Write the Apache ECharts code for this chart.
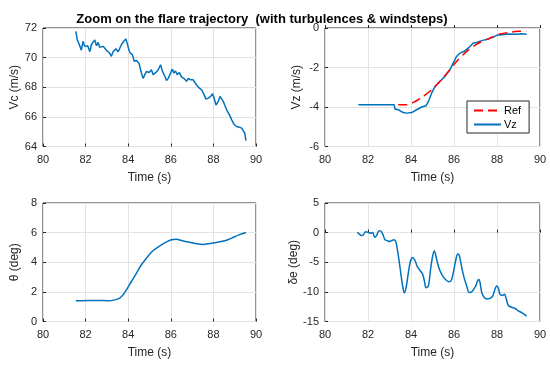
<!DOCTYPE html>
<html><head><meta charset="utf-8">
<script src="https://cdn.jsdelivr.net/npm/echarts@6/dist/echarts.min.js"></script>
<style>html,body{margin:0;padding:0;background:#fff}#c{width:550px;height:368px}</style>
</head><body><div id="c"></div>
<script>
const titleText = 'Zoom on the flare trajectory  (with turbulences & windsteps)';
const xTicks = [80, 82, 84, 86, 88, 90];

const vcTime = [81.54,81.61,81.69,81.8,81.88,81.96,82.04,82.1,82.2,82.27,82.35,82.43,82.51,82.59,82.66,82.82,82.98,83.13,83.21,83.29,83.42,83.53,83.6,83.68,83.79,83.89,83.95,84.04,84.1,84.2,84.28,84.39,84.51,84.62,84.7,84.78,84.86,84.98,85.09,85.17,85.3,85.41,85.52,85.61,85.72,85.8,85.88,85.99,86.07,86.14,86.22,86.3,86.4,86.5,86.61,86.74,86.82,86.93,87.05,87.13,87.2,87.33,87.45,87.56,87.65,87.76,87.87,87.96,88.03,88.12,88.23,88.31,88.39,88.46,88.54,88.62,88.75,88.86,88.97,89.09,89.22,89.33,89.4,89.47,89.53];
const vcValue = [71.77,71.2,70.94,70.5,71.1,70.76,70.87,70.8,70.4,70.87,70.98,71.2,70.8,71.03,70.7,70.76,70.5,70.3,70.09,70.4,70.6,70.4,70.5,70.87,71.1,71.26,70.98,70.5,70.3,70.2,69.75,69.8,69.6,68.96,68.6,68.85,69.07,69.0,69.18,68.85,69.0,69.18,69.52,69.07,68.74,68.46,68.6,68.96,69.23,68.96,69.1,68.85,69.0,68.7,68.6,68.4,68.6,68.5,68.5,68.4,68.17,67.95,67.83,67.5,67.2,67.27,67.38,67.56,67.27,66.8,67.05,67.38,67.5,67.05,66.93,66.48,66.15,65.8,65.5,65.35,65.3,65.24,65.35,64.9,64.4];

const vzTime = [81.55,83.22,83.25,83.41,83.64,83.8,84.03,84.26,84.5,84.7,84.81,84.96,85.12,85.35,85.58,85.81,85.97,86.12,86.28,86.48,86.67,86.9,87.05,87.29,87.6,87.83,87.98,88.22,88.53,88.91,89.15,89.38];
const vzValue = [-3.89,-3.89,-4.1,-4.14,-4.28,-4.31,-4.28,-4.14,-4.0,-3.94,-3.72,-3.3,-2.96,-2.7,-2.45,-2.11,-1.77,-1.44,-1.27,-1.18,-1.01,-0.76,-0.73,-0.64,-0.56,-0.46,-0.37,-0.34,-0.30,-0.32,-0.29,-0.32];
const refTime = [83.41,83.8,84.19,84.57,84.96,85.35,85.74,86.12,86.51,86.9,87.29,87.67,88.14,88.6,89.0,89.38];
const refValue = [-3.89,-3.89,-3.72,-3.46,-3.13,-2.7,-2.2,-1.69,-1.27,-0.93,-0.68,-0.51,-0.3,-0.22,-0.17,-0.14];

const thTime = [81.54,82.19,82.66,83.06,83.37,83.6,83.76,83.92,84.15,84.39,84.62,84.86,85.09,85.33,85.56,85.8,86.03,86.27,86.5,86.82,87.21,87.52,87.84,88.15,88.54,88.86,89.17,89.53];
const thValue = [1.40,1.42,1.42,1.40,1.46,1.58,1.8,2.14,2.7,3.27,3.83,4.28,4.68,4.95,5.18,5.38,5.52,5.56,5.47,5.36,5.25,5.2,5.27,5.34,5.45,5.63,5.83,6.01];

const deTime = [81.5,81.6,81.71,81.78,81.89,82.02,82.12,82.22,82.31,82.4,82.51,82.59,82.68,82.79,82.9,82.99,83.1,83.21,83.3,83.41,83.52,83.61,83.69,83.77,83.88,83.98,84.08,84.19,84.29,84.42,84.54,84.62,84.7,84.81,84.91,85.01,85.09,85.19,85.32,85.47,85.63,85.77,85.89,86.0,86.09,86.17,86.25,86.36,86.47,86.59,86.7,86.82,86.93,87.01,87.1,87.16,87.21,87.29,87.4,87.52,87.67,87.8,87.91,87.98,88.06,88.14,88.25,88.35,88.43,88.53,88.68,88.84,88.99,89.15,89.3,89.38];
const deValue = [0.04,-0.25,-0.5,-0.4,0.15,0.04,-0.1,0.04,-0.8,-0.5,0.3,0.26,-0.2,-1.2,-1.35,-1.5,-1.35,-1.2,-1.6,-3.9,-6.7,-9.0,-10.2,-9.3,-6.7,-4.75,-4.2,-4.75,-5.7,-6.4,-7.0,-8.1,-9.3,-9.0,-6.2,-3.9,-3.1,-4.5,-6.2,-7.3,-8.0,-8.3,-7.9,-6.2,-4.5,-3.6,-3.9,-5.9,-7.6,-9.0,-10.1,-10.0,-9.5,-9.0,-8.1,-7.9,-8.4,-10.1,-10.9,-11.2,-11.1,-10.7,-9.5,-9.0,-9.3,-10.4,-10.6,-10.4,-11.2,-12.3,-12.6,-12.8,-13.2,-13.5,-13.9,-14.1];

const zip = (a, b) => a.map((t, i) => [t, b[i]]);
const FONT = '"Liberation Sans", Arial, sans-serif';
const AX = '#262626';
const BLUE = '#0072BD';

const grids = [
  {left: 43, top: 28, width: 213, height: 118.5},
  {left: 325, top: 28, width: 215, height: 118.5},
  {left: 43, top: 203, width: 213, height: 118.5},
  {left: 325, top: 203, width: 215, height: 118.5}
].map(g => Object.assign({show: true, borderColor: AX, borderWidth: 1, backgroundColor: '#fff'}, g));

function xAx(i, named) {
  return {
    type: 'value', gridIndex: i, min: 80, max: 90, interval: 2,
    name: named ? 'Time (s)' : '', nameLocation: 'middle', nameGap: 25,
    nameTextStyle: {fontFamily: FONT, fontSize: 12, color: AX},
    axisLine: {show: false}, axisTick: {show: true, inside: true, length: 3, lineStyle: {color: AX}},
    axisLabel: {fontFamily: FONT, fontSize: 11, color: AX, margin: 8},
    splitLine: {show: true, lineStyle: {color: '#e3e3e3', width: 1}}
  };
}
function yAx(i, min, max, interval, name, gap) {
  return {
    type: 'value', gridIndex: i, min, max, interval,
    name, nameLocation: 'middle', nameGap: gap, nameRotate: 90,
    nameTextStyle: {fontFamily: FONT, fontSize: 12, color: AX},
    axisLine: {show: false}, axisTick: {show: true, inside: true, length: 3, lineStyle: {color: AX}},
    axisLabel: {fontFamily: FONT, fontSize: 11, color: AX, margin: 6},
    splitLine: {show: true, lineStyle: {color: '#e3e3e3', width: 1}}
  };
}

const lineBase = {type: 'line', symbol: 'none', showSymbol: false, animation: false, silent: true};

const option = {
  animation: false,
  title: {text: titleText, left: 257, textAlign: 'center', top: 8,
    textStyle: {fontFamily: FONT, fontSize: 13, fontWeight: 'bold', color: '#000'}},
  grid: grids,
  xAxis: [xAx(0, true), xAx(1, true), xAx(2, true), xAx(3, true)],
  yAxis: [
    yAx(0, 64, 72, 2, 'Vc (m/s)', 22),
    yAx(1, -6, 0, 2, 'Vz (m/s)', 22),
    yAx(2, 0, 8, 2, 'θ (deg)', 22),
    yAx(3, -15, 5, 5, 'δe (deg)', 22)
  ],
  legend: {
    data: ['Ref', 'Vz'], orient: 'vertical', left: 467, top: 101,
    itemWidth: 27, itemHeight: 10, itemGap: 3, padding: [4, 8, 3, 6],
    itemStyle: {opacity: 0},
    backgroundColor: '#fff', borderColor: AX, borderWidth: 1, borderRadius: 0,
    textStyle: {fontFamily: FONT, fontSize: 11, color: '#000', padding: [0, 0, 0, -2]}
  },
  series: [
    Object.assign({}, lineBase, {name: 'Vc', xAxisIndex: 0, yAxisIndex: 0, data: zip(vcTime, vcValue), lineStyle: {color: BLUE, width: 1.5}, itemStyle: {color: BLUE}}),
    Object.assign({}, lineBase, {name: 'Ref', xAxisIndex: 1, yAxisIndex: 1, data: zip(refTime, refValue), smooth: 0.3, lineStyle: {color: '#ff0000', width: 1.5, type: [9, 5]}, itemStyle: {color: '#ff0000'}, z: 3}),
    Object.assign({}, lineBase, {name: 'Vz', xAxisIndex: 1, yAxisIndex: 1, data: zip(vzTime, vzValue), lineStyle: {color: BLUE, width: 1.5}, itemStyle: {color: BLUE}, z: 2}),
    Object.assign({}, lineBase, {name: 'theta', xAxisIndex: 2, yAxisIndex: 2, data: zip(thTime, thValue), smooth: 0.3, lineStyle: {color: BLUE, width: 1.5}, itemStyle: {color: BLUE}}),
    Object.assign({}, lineBase, {name: 'de', xAxisIndex: 3, yAxisIndex: 3, data: zip(deTime, deValue), smooth: 0.3, lineStyle: {color: BLUE, width: 1.5}, itemStyle: {color: BLUE}})
  ]
};
const chart = echarts.init(document.getElementById('c'), null, {renderer: 'canvas'});
chart.setOption(option);
</script></body></html>
